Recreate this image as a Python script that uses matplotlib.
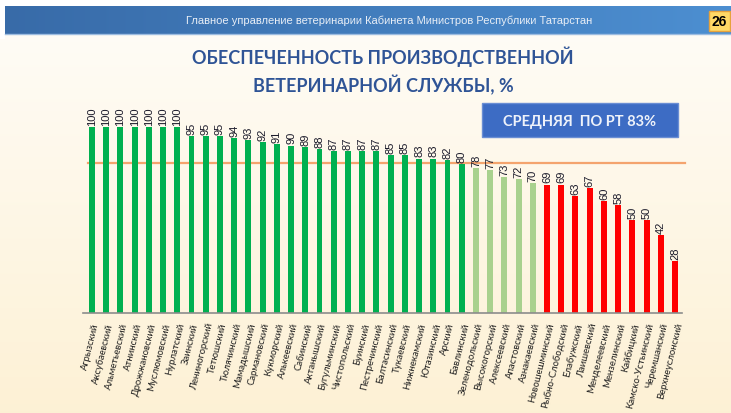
import numpy as np
import matplotlib
matplotlib.use("Agg")
import matplotlib.pyplot as plt
from matplotlib.patches import Rectangle

# районы и обеспеченность, %
districts = ["Агрызский", "Аксубаевский", "Альметьевский", "Атнинский", "Дрожжановский",
             "Муслюмовский", "Нурлатский", "Заинский", "Лениногорский", "Тетюшский",
             "Тюлячинский", "Мамадышский", "Сармановский", "Кукморский", "Алькеевский",
             "Сабинский", "Актанышский", "Бугульминский", "Чистопольский", "Буинский",
             "Пестречинский", "Балтасинский", "Тукаевский", "Нижнекамский", "Ютазинский",
             "Арский", "Бавлинский", "Зеленодольский", "Высокогорский", "Алексеевский",
             "Апастовский", "Азнакаевский", "Новошешминский", "Рыбно-Слободский",
             "Елабужский", "Лаишевский", "Менделеевский", "Мензелинский", "Кайбицкий",
             "Камско-Устьинский", "Черемшанский", "Верхнеуслонский"]
values = [100, 100, 100, 100, 100, 100, 100, 95, 95, 95, 94, 93, 92, 91, 90, 89, 88,
          87, 87, 87, 87, 85, 85, 83, 83, 82, 80, 78, 77, 73, 72, 70, 69, 69, 63, 67,
          60, 58, 50, 50, 42, 28]
# группа: 0 - выше среднего, 1 - около среднего, 2 - ниже
groups = [0] * 27 + [1] * 5 + [2] * 10
avg_line_level = 80.6   # where the orange line sits on the picture
header_text = "Главное управление ветеринарии Кабинета Министров Республики Татарстан"
page_no = "26"
title = "ОБЕСПЕЧЕННОСТЬ ПРОИЗВОДСТВЕННОЙ\nВЕТЕРИНАРНОЙ СЛУЖБЫ, %"
avg_text = "СРЕДНЯЯ  ПО РТ 83%"

group_colors = ["#00B050", "#A9D18E", "#FF0000"]

W, H = 731, 414
fig = plt.figure(figsize=(W / 100, H / 100), dpi=100)

# фон
bg = fig.add_axes([0, 0, 1, 1], zorder=-10)
grad = np.linspace(0, 1, 256).reshape(-1, 1)
top = np.array([1.0, 0.992, 0.975])
bot = np.array([0.992, 0.945, 0.835])
img = top + (bot - top) * grad[..., None]
bg.imshow(img, aspect="auto", extent=[0, W, H, 0])
bg.add_patch(Rectangle((0, 0), W, 7, color="white", lw=0))
bg.add_patch(Rectangle((0, 0), 5, 40, color="white", lw=0))
# шапка
hg = np.linspace(0, 1, 256).reshape(1, -1)
hl = np.array([0.22, 0.42, 0.66])
hr = np.array([0.30, 0.56, 0.82])
himg = hl + (hr - hl) * hg[..., None]
himg = np.repeat(himg, 4, axis=0)
bg.imshow(himg, aspect="auto", extent=[5, W, 35, 7])
bg.plot([5, W], [35, 35], color="#9DBCE0", lw=1)
bg.text(389, 21, header_text, color="#E8EEF6", fontsize=8, ha="center", va="center",
        family=["Liberation Sans Narrow", "Liberation Sans", "DejaVu Sans"])
bg.add_patch(Rectangle((709, 12), 21, 20, facecolor="#FFD966", edgecolor="#E6A23C", lw=1))
bg.text(719.5, 22, page_no, color="black", fontsize=10, fontweight="bold",
        ha="center", va="center", family=["Liberation Sans", "DejaVu Sans"])
# заголовок
bg.text(383, 71, title, color="#2F5496", fontsize=13, fontweight="bold",
        ha="center", va="center", linespacing=1.5, family=["Lato", "DejaVu Sans"])
# плашка среднего
bg.add_patch(Rectangle((482, 104), 196, 34, facecolor="#3D6CC4", edgecolor="#6A8ED4", lw=1))
bg.text(580, 122, avg_text, color="#EEF2FA", fontsize=10.5, fontweight="bold",
        ha="center", va="center", family=["Lato", "DejaVu Sans"])
bg.set_xlim(0, W)
bg.set_ylim(H, 0)
bg.axis("off")

# диаграмма
ax = fig.add_axes([83 / W, 100 / H, (682 - 83) / W, 204.6 / H])
ax.patch.set_alpha(0)
x = np.arange(len(values))
colors = [group_colors[g] for g in groups]
ax.bar(x, values, width=0.42, color=colors, zorder=2)
ax.plot([-0.28, 41.7], [avg_line_level, avg_line_level], color="#F4A46E", lw=1.6,
        clip_on=False, zorder=1)
for xi, v in zip(x, values):
    ax.text(xi, v + 1.2, str(v), rotation=90, ha="center", va="bottom", fontsize=8,
            color="#1A1A2A", family=["Liberation Sans", "DejaVu Sans"])
ax.set_xlim(-0.63, 41.49)
ax.set_ylim(0, 110)
ax.set_xticks(x)
ax.set_xticklabels(districts, rotation=76, ha="right", rotation_mode="anchor",
                   fontsize=6.9, color="#222222", family=["Lato", "DejaVu Sans"])
ax.tick_params(axis="x", length=0, pad=6)
ax.set_yticks([])
for s in ["top", "right", "left"]:
    ax.spines[s].set_visible(False)
ax.spines["bottom"].set_color("#8C8C8C")
ax.spines["bottom"].set_linewidth(1.2)

fig.savefig("out.png", dpi=100)
